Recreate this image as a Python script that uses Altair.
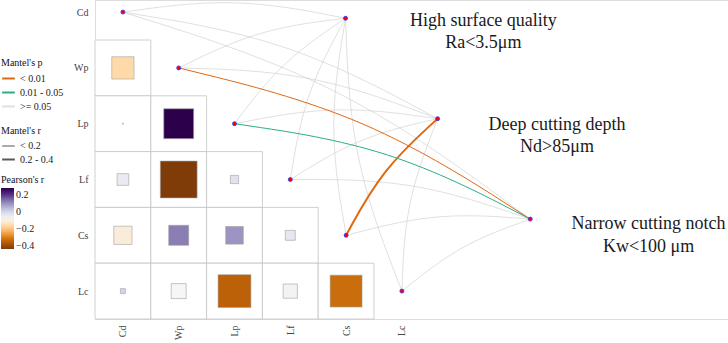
import altair as alt
import pandas as pd

# ---------------- data ----------------
variables = ["Cd", "Wp", "Lp", "Lf", "Cs", "Lc"]

# lower-triangle Pearson's r (row variable, column variable)
corr_row = ["Wp", "Lp", "Lp", "Lf", "Lf", "Lf", "Cs", "Cs", "Cs", "Cs", "Lc", "Lc", "Lc", "Lc", "Lc"]
corr_col = ["Cd", "Cd", "Wp", "Cd", "Wp", "Lp", "Cd", "Wp", "Lp", "Lf", "Cd", "Wp", "Lp", "Lf", "Cs"]
corr_r = [-0.159, 0.0003, 0.287, -0.044, -0.435, -0.022, -0.107, 0.128, 0.100, -0.032,
          0.008, -0.072, -0.347, -0.065, -0.327]

# Mantel test targets
targets = ["High surface quality", "Deep cutting depth", "Narrow cutting notch"]
target_sub = ["Ra<3.5\u03bcm", "Nd>85\u03bcm", "Kw<100 \u03bcm"]
target_x = [3.99, 5.64, 7.30]
target_y = [0.11, 1.91, 3.71]
label_x = [6.46, 7.78, 9.42]
label_y1 = [0.16, 2.02, 3.80]
label_y2 = [0.555, 2.42, 4.21]

edge_from = ["Cd", "Wp", "Lp", "Lf", "Cs", "Lc",
             "Cd", "Wp", "Lp", "Lf", "Cs", "Lc",
             "Cd", "Wp", "Lp", "Lf", "Cs", "Lc"]
edge_to = ["High surface quality"] * 6 + ["Deep cutting depth"] * 6 + ["Narrow cutting notch"] * 6
edge_p = [">= 0.05", ">= 0.05", ">= 0.05", ">= 0.05", ">= 0.05", ">= 0.05",
          ">= 0.05", ">= 0.05", ">= 0.05", ">= 0.05", "< 0.01", ">= 0.05",
          ">= 0.05", "< 0.01", "0.01 - 0.05", ">= 0.05", ">= 0.05", ">= 0.05"]
edge_r = ["< 0.2"] * 10 + ["0.2 - 0.4"] + ["< 0.2"] * 7

p_levels = ["< 0.01", "0.01 - 0.05", ">= 0.05"]
p_colors = ["#E2680F", "#2AAE83", "rgba(204,204,204,0.6)"]
r_levels = ["< 0.2", "0.2 - 0.4"]
r_widths = [1.0, 2.0]
puor = ["#7F3B08", "#B35806", "#E08214", "#FDB863", "#FEE0B6", "#F7F7F7",
        "#D8DAEB", "#B2ABD2", "#8073AC", "#542788", "#2D004B"]

CURV = 0.083
FONT = "Liberation Serif"

# ---------------- tables ----------------
cells = pd.DataFrame({
    "row": corr_row, "col": corr_col, "r": corr_r,
})
cells["ri"] = [variables.index(v) for v in cells["row"]]
cells["ci"] = [variables.index(v) for v in cells["col"]]
cells["x0"] = cells["ci"] - 0.5
cells["x1"] = cells["ci"] + 0.5
cells["y0"] = cells["ri"] - 0.5
cells["y1"] = cells["ri"] + 0.5
cells["absr"] = cells["r"].abs()

rmin, rmax = min(corr_r), max(corr_r)
fill_domain = [rmin + (rmax - rmin) * k / 10 for k in range(11)]

rows = []
for k, (s, t, p, r) in enumerate(zip(edge_from, edge_to, edge_p, edge_r)):
    i = variables.index(s)
    j = targets.index(t)
    sx, sy = float(i), float(i)
    tx, ty = target_x[j], target_y[j]
    dx, dy = tx - sx, ty - sy
    cx = (sx + tx) / 2 + CURV * dy
    cy = (sy + ty) / 2 - CURV * dx
    for seq, (px, py) in enumerate([(sx, sy), (cx, cy), (tx, ty)]):
        rows.append({"edge": k, "seq": seq, "x": px, "y": py, "pcat": p, "rcat": r})
edges = pd.DataFrame(rows)
edges_grey = edges[edges["pcat"] == ">= 0.05"]
edges_sig = edges[edges["pcat"] != ">= 0.05"]

nodes = pd.DataFrame({
    "x": [float(i) for i in range(len(variables))] + target_x,
    "y": [float(i) for i in range(len(variables))] + target_y,
})

labels = pd.DataFrame({
    "x": label_x + label_x,
    "y": label_y1 + label_y2,
    "text": targets + target_sub,
})

# ---------------- scales / axes ----------------
W, H = 633, 319
xs = alt.Scale(domain=[-0.5, -0.5 + W / 55.8], nice=False, zero=False)
ys = alt.Scale(domain=[5.5 - H / 55.8, 5.5], nice=False, zero=False, reverse=True)

names_expr = "['Cd','Wp','Lp','Lf','Cs','Lc'][datum.value]"
xaxis = alt.Axis(values=[0, 1, 2, 3, 4, 5], labelExpr=names_expr, labelAngle=-90,
                 domain=False, ticks=False, grid=False, title=None, labelPadding=6,
                 labelFont=FONT, labelFontSize=10, labelColor="#444444")
yaxis = alt.Axis(values=[0, 1, 2, 3, 4, 5], labelExpr=names_expr,
                 domain=False, ticks=False, grid=False, title=None, labelPadding=7,
                 labelFont=FONT, labelFontSize=10, labelColor="#444444")

color_enc = alt.Color(
    "pcat:N",
    scale=alt.Scale(domain=p_levels, range=p_colors),
    legend=alt.Legend(title="Mantel's p", orient="none", legendX=-94, legendY=58,
                      symbolType="stroke", symbolSize=160, symbolStrokeWidth=2,
                      rowPadding=1, titlePadding=3, labelFontSize=10, titleFontSize=10,
                      labelFont=FONT, titleFont=FONT, titleFontWeight="normal",
                      labelColor="#222222", titleColor="#111111"),
)
width_enc = alt.StrokeWidth(
    "rcat:N",
    scale=alt.Scale(domain=r_levels, range=r_widths),
    legend=alt.Legend(title="Mantel's r", orient="none", legendX=-94, legendY=126,
                      symbolType="stroke", symbolSize=160, symbolStrokeColor="#595959",
                      rowPadding=1, titlePadding=3, labelFontSize=10, titleFontSize=10,
                      labelFont=FONT, titleFont=FONT, titleFontWeight="normal",
                      labelColor="#222222", titleColor="#111111"),
)

cell_layer = alt.Chart(cells).mark_rect(fill="white", stroke="#c4c4c4", strokeWidth=0.8).encode(
    x=alt.X("x0:Q", scale=xs, axis=xaxis), x2="x1:Q",
    y=alt.Y("y0:Q", scale=ys, axis=yaxis), y2="y1:Q",
)

square_layer = alt.Chart(cells).mark_square(stroke="#a0a0a0", strokeWidth=0.6, opacity=1).encode(
    x=alt.X("ci:Q", scale=xs, axis=xaxis),
    y=alt.Y("ri:Q", scale=ys, axis=yaxis),
    size=alt.Size("absr:Q", scale=alt.Scale(domain=[0, 1], range=[0, 55.8 * 55.8]), legend=None),
    fill=alt.Fill("r:Q",
                  scale=alt.Scale(domain=fill_domain, range=puor, interpolate="lab"),
                  legend=alt.Legend(title="Pearson's r", orient="none", legendX=-94, legendY=175,
                                    values=[-0.4, -0.2, 0, 0.2],
                                    labelExpr="datum.value == 0 ? '0' : format(datum.value, '.1f')",
                                    gradientLength=61, gradientThickness=13,
                                    titlePadding=3, labelFontSize=10, titleFontSize=10,
                                    labelFont=FONT, titleFont=FONT, titleFontWeight="normal",
                                    labelColor="#222222", titleColor="#111111")),
)

grey_layer = alt.Chart(edges_grey).mark_line(interpolate="basis").encode(
    x=alt.X("x:Q", scale=xs, axis=xaxis),
    y=alt.Y("y:Q", scale=ys, axis=yaxis),
    detail="edge:N",
    order="seq:Q",
    color=color_enc,
    strokeWidth=width_enc,
)
sig_layer = alt.Chart(edges_sig).mark_line(interpolate="basis").encode(
    x=alt.X("x:Q", scale=xs, axis=xaxis),
    y=alt.Y("y:Q", scale=ys, axis=yaxis),
    detail="edge:N",
    order="seq:Q",
    color=color_enc,
    strokeWidth=width_enc,
)

node_layer = alt.Chart(nodes).mark_point(filled=True, fill="#ff0000", stroke="#3030ff",
                                         strokeWidth=0.8, size=16, opacity=1).encode(
    x=alt.X("x:Q", scale=xs, axis=xaxis),
    y=alt.Y("y:Q", scale=ys, axis=yaxis),
)

label_layer = alt.Chart(labels).mark_text(font=FONT, fontSize=18, align="center",
                                          baseline="middle", color="#1a1a1a").encode(
    x=alt.X("x:Q", scale=xs, axis=xaxis),
    y=alt.Y("y:Q", scale=ys, axis=yaxis),
    text="text:N",
)

chart = alt.layer(cell_layer, square_layer, grey_layer, sig_layer, node_layer, label_layer).resolve_scale(
    x="shared", y="shared"
).properties(
    width=W, height=H,
    padding={"left": 95, "top": 0, "right": 0, "bottom": 24},
    autosize=alt.AutoSizeParams(type="none"),
).configure_view(stroke=None).configure(font=FONT)

chart.save("out.html", embed_options={"renderer": "svg", "actions": False})
